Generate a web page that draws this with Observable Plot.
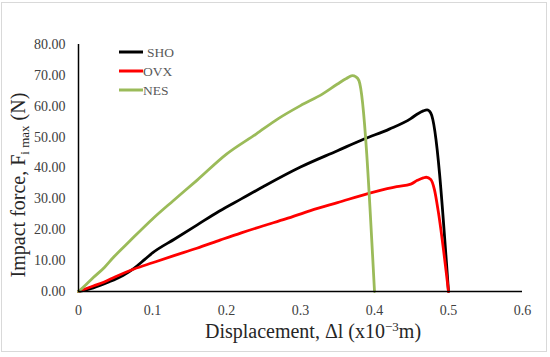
<!DOCTYPE html>
<html>
<head>
<meta charset="utf-8">
<script src="https://cdn.jsdelivr.net/npm/d3@7"></script>
<script src="https://cdn.jsdelivr.net/npm/@observablehq/plot@0.6"></script>
<style>
  html, body { margin: 0; padding: 0; background: #fff; }
  #wrap { position: relative; width: 550px; height: 357px; }
  #frame { position: absolute; left: 1px; top: 2px; width: 546px; height: 350px; border: 1px solid #d9d9d9; box-sizing: border-box; pointer-events: none; }
  svg, svg text { font-family: "Liberation Serif", "Times New Roman", serif !important; }
</style>
</head>
<body>
<div id="wrap"><div id="frame"></div></div>
<script>
// Series names and colours
const seriesNames = ["SHO", "OVX", "NES"];
const seriesColors = ["#000000", "#ff0000", "#9bbb59"];

// SHO
const shoX = [0, 0.02, 0.04, 0.06, 0.075, 0.09, 0.1, 0.13, 0.16, 0.19, 0.22, 0.25, 0.3, 0.35, 0.386, 0.42, 0.449, 0.458, 0.466, 0.471, 0.476, 0.5];
const shoY = [0, 1.2, 3, 5.2, 7.5, 10.5, 12.5, 17, 21.5, 26, 30, 34, 40.3, 45.6, 49.4, 52.6, 56, 57.5, 58.5, 58.8, 57.8, 0];
// OVX
const ovxX = [0, 0.02, 0.034, 0.05, 0.075, 0.1, 0.129, 0.16, 0.192, 0.22, 0.25, 0.28, 0.3135, 0.35, 0.4, 0.43, 0.449, 0.458, 0.466, 0.47, 0.476, 0.481, 0.486, 0.5];
const ovxY = [0, 1.8, 3, 4.8, 7.3, 9.3, 11.6, 14, 16.7, 19, 21.3, 23.5, 26.2, 28.8, 32.3, 34, 34.8, 36, 36.8, 37, 36.3, 33, 26.2, 0];
// NES
const nesX = [0, 0.01, 0.02, 0.035, 0.047, 0.07, 0.1, 0.128, 0.16, 0.2, 0.24, 0.27, 0.3, 0.33, 0.35, 0.362, 0.37, 0.375, 0.379, 0.4];
const nesY = [0, 2.2, 4.5, 7.8, 11, 16.5, 23.5, 29.4, 36, 44.5, 51, 56, 60.2, 64, 67.2, 69, 69.9, 69.5, 68.3, 0];

// Axis ticks
const xTicks = [0, 0.1, 0.2, 0.3, 0.4, 0.5, 0.6];
const yTicks = [0, 10, 20, 30, 40, 50, 60, 70, 80];

const toRows = (xs, ys) => xs.map((x, i) => ({x, y: ys[i]}));
const sho = toRows(shoX, shoY);
const ovx = toRows(ovxX, ovxY);
const nes = toRows(nesX, nesY);

const chart = Plot.plot({
  width: 550,
  height: 357,
  marginLeft: 78,
  marginRight: 28,
  marginTop: 44,
  marginBottom: 66,
  style: {fontFamily: "'Liberation Serif', serif", fontSize: "14px", background: "transparent", color: "#404040"},
  x: {domain: [0, 0.6]},
  y: {domain: [0, 80]},
  marks: [
    Plot.axisX({ticks: xTicks, tickSize: 0, tickPadding: 14, tickFormat: d => String(d), label: null}),
    Plot.axisY({ticks: yTicks, tickSize: 0, tickPadding: 13, tickFormat: d => d.toFixed(2), label: null}),
    Plot.line(sho, {x: "x", y: "y", stroke: seriesColors[0], strokeWidth: 2.8, curve: "monotone-x"}),
    Plot.line(ovx, {x: "x", y: "y", stroke: seriesColors[1], strokeWidth: 2.8, curve: "monotone-x"}),
    Plot.line(nes, {x: "x", y: "y", stroke: seriesColors[2], strokeWidth: 2.8, curve: "monotone-x"}),
    Plot.ruleY([0], {stroke: "#000", strokeWidth: 1.5}),
    Plot.ruleX([0], {y1: 0, y2: 80, stroke: "#000", strokeWidth: 1.5})
  ]
});

document.getElementById("wrap").prepend(chart);

const svg = d3.select(chart);

// X title
const xt = svg.append("text")
  .attr("x", 313).attr("y", 338)
  .attr("text-anchor", "middle")
  .attr("fill", "#262626")
  .style("font-size", "20px");
xt.append("tspan").text("Displacement, Δl (x10");
xt.append("tspan").attr("dy", -7).style("font-size", "13px").text("−3");
xt.append("tspan").attr("dy", 7).text("m)");

// Y title
const yt = svg.append("text")
  .attr("transform", "translate(25,185) rotate(-90)")
  .attr("text-anchor", "middle")
  .attr("fill", "#262626")
  .style("font-size", "20px");
yt.append("tspan").text("Impact force, F");
yt.append("tspan").attr("dy", 4).style("font-size", "13px").text("i max");
yt.append("tspan").attr("dy", -4).text(" (N)");

// Legend
const lg = svg.append("g").attr("text-anchor", "start");
seriesNames.forEach((name, i) => {
  const y = 52 + i * 19;
  lg.append("line").attr("x1", 119).attr("x2", 143).attr("y1", y).attr("y2", y)
    .attr("stroke", seriesColors[i]).attr("stroke-width", 3);
  lg.append("text").attr("x", i === 0 ? 147 : 143).attr("y", y + 4.5)
    .attr("text-anchor", "start")
    .attr("fill", "#595959").style("font-size", "13.5px").text(name);
});

// Force serif on every text element
svg.selectAll("text, tspan").style("font-family", "'Liberation Serif', 'Times New Roman', serif");
svg.selectAll("g[aria-label='x-axis tick label'] text, g[aria-label='y-axis tick label'] text")
  .style("font-size", "14px").attr("fill", "#404040");
</script>
</body>
</html>
